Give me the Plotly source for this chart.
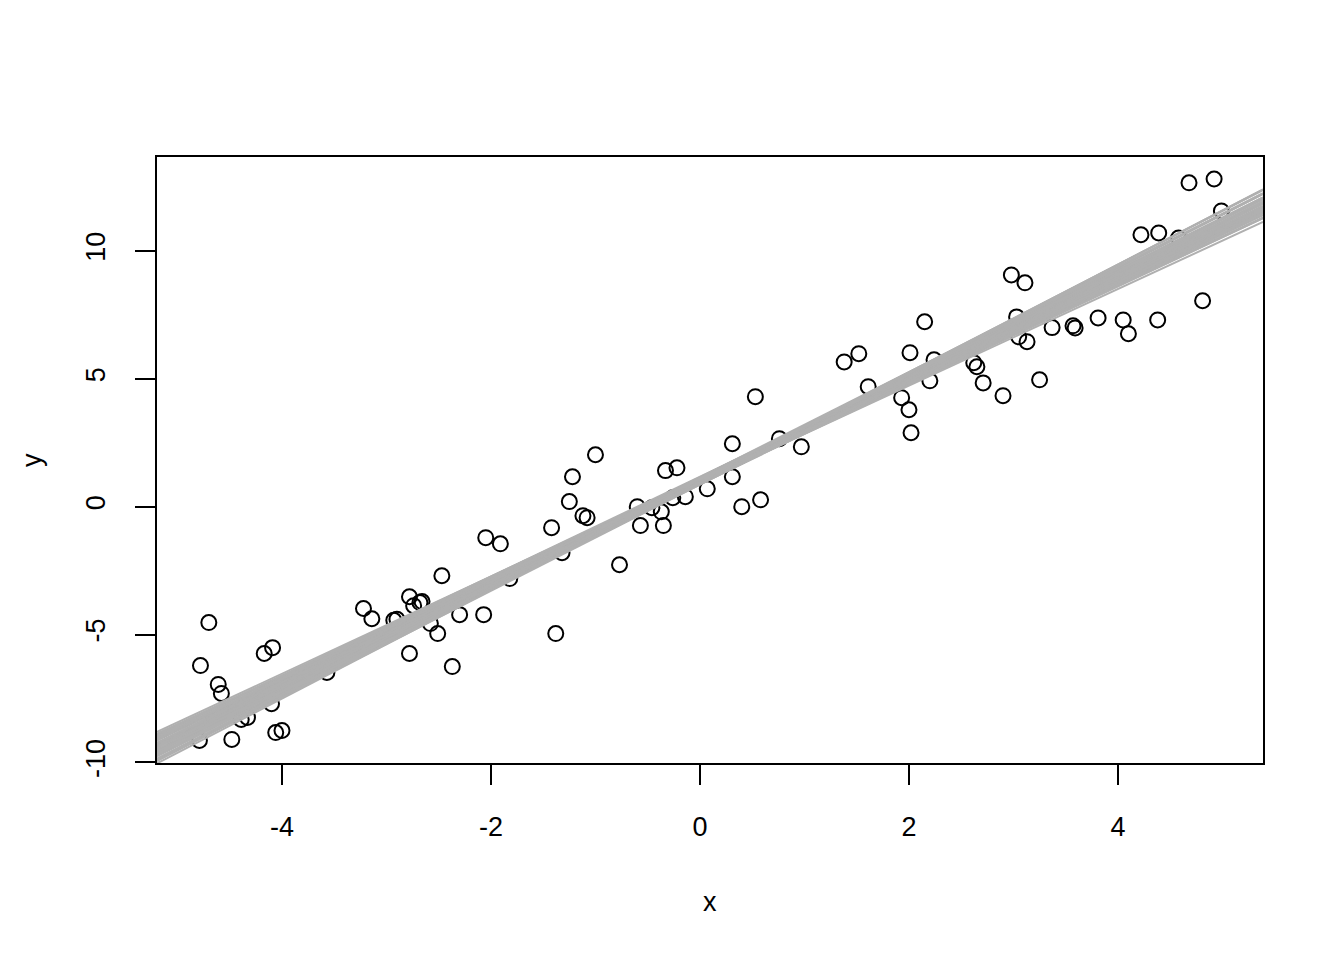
import plotly.graph_objects as go

# ---- data ----
px_x = [-4.79, -4.78, -4.70, -4.61, -4.58, -4.48, -4.39, -4.33, -4.17, -4.09,
        -4.10, -4.06, -4.00, -3.57, -3.22, -3.14, -2.93, -2.90, -2.78, -2.74,
        -2.68, -2.66, -2.58, -2.51, -2.78, -2.47, -2.30, -2.37, -2.07, -2.05,
        -1.91, -1.82, -1.42, -1.32, -1.38, -1.25, -1.22, -1.12, -1.08, -1.00,
        -0.77, -0.60, -0.57, -0.46, -0.37, -0.35, -0.33, -0.22, -0.26, -0.14,
        0.07, 0.31, 0.31, 0.40, 0.58, 0.76, 0.97, 0.53, 1.38, 1.52,
        1.61, 2.15, 2.01, 1.93, 2.00, 2.02, 2.20, 2.24, 2.62, 2.65,
        2.71, 2.90, 2.98, 3.11, 3.03, 3.05, 3.13, 3.25, 3.37, 3.57,
        3.59, 3.81, 4.05, 4.10, 4.38, 4.68, 4.92, 4.99, 4.22, 4.39,
        4.81, 4.58]
px_y = [-9.14, -6.21, -4.53, -6.95, -7.30, -9.10, -8.32, -8.24, -5.74, -5.51,
        -7.70, -8.83, -8.75, -6.48, -3.98, -4.38, -4.44, -4.40, -3.52, -3.87,
        -3.75, -3.71, -4.57, -4.96, -5.74, -2.70, -4.22, -6.25, -4.22, -1.21,
        -1.45, -2.81, -0.82, -1.80, -4.96, 0.20, 1.17, -0.35, -0.43, 2.03,
        -2.27, 0.00, -0.74, -0.04, -0.20, -0.74, 1.41, 1.52, 0.35, 0.39,
        0.70, 1.17, 2.46, 0.00, 0.27, 2.66, 2.34, 4.30, 5.66, 5.98,
        4.69, 7.23, 6.02, 4.26, 3.79, 2.89, 4.92, 5.74, 5.63, 5.47,
        4.84, 4.34, 9.06, 8.75, 7.42, 6.64, 6.45, 4.96, 7.00, 7.07,
        6.99, 7.38, 7.30, 6.76, 7.30, 12.66, 12.81, 11.56, 10.63, 10.70,
        8.05, 10.50]

# bootstrap regression lines (intercept, slope)
line_a = [1.02, 0.95, 1.08, 0.98, 1.12, 0.91, 1.05, 0.99, 1.15, 0.88,
          1.03, 0.94, 1.10, 0.97, 1.07, 0.90, 1.13, 1.00, 0.86, 1.06,
          0.96, 1.11, 0.93, 1.04, 1.17, 0.89, 1.01, 0.98, 1.09, 0.92,
          1.14, 0.95, 1.06, 1.00, 0.87, 1.12, 0.97, 1.03, 1.08, 0.94]
line_b = [1.99, 2.03, 1.96, 2.06, 1.93, 2.01, 2.08, 1.91, 2.00, 1.97,
          2.11, 1.94, 2.04, 1.98, 1.90, 2.07, 1.97, 2.02, 2.04, 1.95,
          2.09, 1.99, 1.92, 2.05, 1.95, 2.00, 1.93, 2.12, 2.01, 1.96,
          2.06, 1.89, 2.10, 1.97, 2.08, 2.02, 2.00, 1.94, 2.07, 1.99]

x_ticks = [-4, -2, 0, 2, 4]
x_tick_labels = ["-4", "-2", "0", "2", "4"]
y_ticks = [-10, -5, 0, 5, 10]
y_tick_labels = ["-10", "-5", "0", "5", "10"]

x_range = [-5.196, 5.388]
y_range = [-10.02, 13.67]

FONT = "Liberation Sans, Arial, Helvetica, sans-serif"

fig = go.Figure()

fig.add_trace(go.Scatter(
    x=px_x, y=px_y, mode="markers",
    marker=dict(symbol="circle-open", size=15, color="black",
                line=dict(width=2, color="black")),
    showlegend=False, hoverinfo="skip"))

lx, ly = [], []
for a, b in zip(line_a, line_b):
    lx += [x_range[0], x_range[1], None]
    ly += [a + b * x_range[0], a + b * x_range[1], None]
fig.add_trace(go.Scatter(
    x=lx, y=ly, mode="lines",
    line=dict(color="#B0B0B0", width=2),
    showlegend=False, hoverinfo="skip"))

axis_common = dict(showgrid=False, zeroline=False, showline=True, mirror=True,
                   linecolor="black", linewidth=1.5, ticks="outside",
                   ticklen=20, tickwidth=1.5, tickcolor="black",
                   tickfont=dict(family=FONT, size=27, color="black"))

fig.update_xaxes(range=x_range, tickvals=x_ticks, ticktext=x_tick_labels,
                 ticklabelstandoff=19, **axis_common)
fig.update_yaxes(range=y_range, tickvals=y_ticks, ticktext=y_tick_labels,
                 tickangle=-90, ticklabelstandoff=19, **axis_common)

fig.add_annotation(text="x", xref="paper", yref="paper", x=0.5, y=-0.229,
                   xanchor="center", yanchor="middle", showarrow=False,
                   font=dict(family=FONT, size=27, color="black"))
fig.add_annotation(text="y", xref="paper", yref="paper", x=-0.113, y=0.5,
                   xanchor="center", yanchor="middle", showarrow=False,
                   textangle=-90,
                   font=dict(family=FONT, size=27, color="black"))

fig.update_layout(width=1344, height=960,
                  margin=dict(l=149, r=89, t=149, b=205),
                  paper_bgcolor="white", plot_bgcolor="white",
                  font=dict(family=FONT, size=27, color="black"))

fig.write_html("out.html")
